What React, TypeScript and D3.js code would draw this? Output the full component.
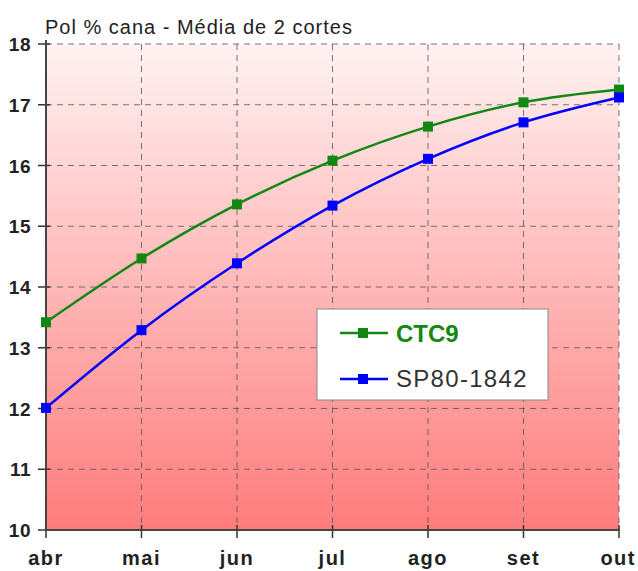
import React from "react";
import * as d3 from "d3";

const months = ["abr", "mai", "jun", "jul", "ago", "set", "out"];
const ctc9 = [13.42, 14.47, 15.36, 16.08, 16.64, 17.04, 17.25];
const sp80 = [12.01, 13.29, 14.39, 15.34, 16.11, 16.71, 17.12];
const yTicks = [10, 11, 12, 13, 14, 15, 16, 17, 18];
const seriesNames = ["CTC9", "SP80-1842"];

export default function App() {
  const W = 638, H = 571;
  const x = d3.scalePoint<string>().domain(months).range([46, 619]);
  const y = d3.scaleLinear().domain([10, 18]).range([530, 44]);
  const line = d3
    .line<number>()
    .x((_, i) => x(months[i]) as number)
    .y((d) => y(d))
    .curve(d3.curveMonotoneX);
  const series = [
    { name: seriesNames[0], data: ctc9, color: "#118811" },
    { name: seriesNames[1], data: sp80, color: "#0000ff" },
  ];
  const font = "'Liberation Sans', Arial, sans-serif";
  return (
    <svg width={W} height={H} style={{ position: "absolute", left: 0, top: 0 }}>
      <defs>
        <linearGradient id="bg" x1="0" y1="0" x2="0" y2="1">
          <stop offset="0" stopColor="#fff2f2" />
          <stop offset="1" stopColor="#ff7c7c" />
        </linearGradient>
      </defs>
      <rect x={0} y={0} width={W} height={H} fill="#fff" />
      <rect x={46} y={44} width={573} height={486} fill="url(#bg)" />
      {yTicks.map((t) => (
        <g key={t}>
          {t > 10 && (
            <line x1={46} x2={619} y1={y(t)} y2={y(t)} stroke="#555" strokeWidth={1} strokeDasharray="6,5" opacity={0.8} />
          )}
          <line x1={38} x2={50} y1={y(t)} y2={y(t)} stroke="#333" strokeWidth={1.5} />
          <text x={31} y={y(t) + 7} textAnchor="end" fontFamily={font} fontWeight="bold" fontSize={19} letterSpacing={0.5} fill="#222">
            {t}
          </text>
        </g>
      ))}
      {months.map((m, i) => (
        <g key={m}>
          {i > 0 && (
            <line x1={x(m)} x2={x(m)} y1={44} y2={530} stroke="#555" strokeWidth={1} strokeDasharray="6,5" opacity={0.8} />
          )}
          <line x1={x(m)} x2={x(m)} y1={525} y2={538} stroke="#333" strokeWidth={1.5} />
          <text
            x={i === months.length - 1 ? 636 : (x(m) as number)}
            y={565}
            textAnchor={i === months.length - 1 ? "end" : "middle"}
            fontFamily={font}
            fontWeight="bold"
            fontSize={20}
            letterSpacing={1.5}
            fill="#222"
          >
            {m}
          </text>
        </g>
      ))}
      <line x1={46} x2={46} y1={40} y2={530} stroke="#444" strokeWidth={2} />
      <line x1={46} x2={619} y1={530} y2={530} stroke="#444" strokeWidth={2} />
      <text x={45} y={34} fontFamily={font} fontSize={20} letterSpacing={1} fill="#222">
        Pol % cana - Média de 2 cortes
      </text>
      {series.map((s) => (
        <g key={s.name}>
          <path d={line(s.data) as string} fill="none" stroke={s.color} strokeWidth={2.5} />
          {s.data.map((v, i) => (
            <rect key={i} x={(x(months[i]) as number) - 5} y={y(v) - 5} width={10} height={10} fill={s.color} />
          ))}
        </g>
      ))}
      <g>
        <rect x={317} y={309} width={231} height={91} fill="#fff" stroke="#888" strokeWidth={1} />
        {series.map((s, i) => (
          <g key={s.name}>
            <line x1={340} x2={388} y1={333 + i * 46} y2={333 + i * 46} stroke={s.color} strokeWidth={2.5} />
            <rect x={358} y={328 + i * 46} width={10} height={10} fill={s.color} />
            <text
              x={396}
              y={342 + i * 45}
              fontFamily={font}
              fontSize={24}
              letterSpacing={i === 0 ? 0 : 1.3}
              fontWeight={i === 0 ? "bold" : "normal"}
              fill={i === 0 ? "#118811" : "#333"}
            >
              {s.name}
            </text>
          </g>
        ))}
      </g>
    </svg>
  );
}
